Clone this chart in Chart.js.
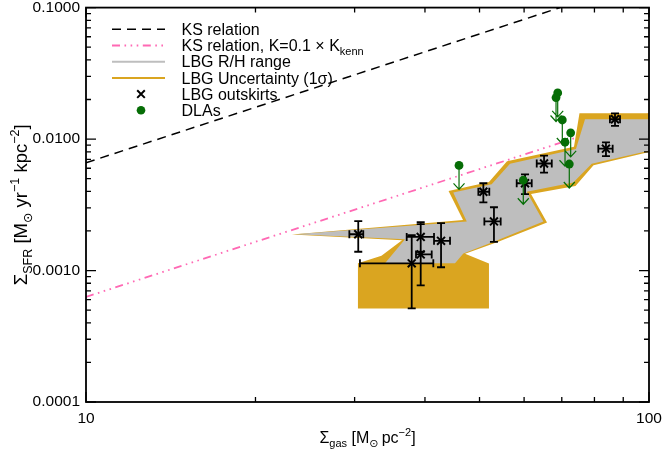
<!DOCTYPE html>
<html>
<head>
<meta charset="utf-8">
<title>Star formation law: LBG outskirts and DLAs</title>
<script src="https://cdn.jsdelivr.net/npm/chart.js@4.4.1/dist/chart.umd.min.js"></script>
<style>
  html, body { margin: 0; padding: 0; background: #ffffff; }
  #wrap { width: 662px; height: 450px; position: relative; }
</style>
</head>
<body>
<div id="wrap"><canvas id="kslaw" width="662" height="450"></canvas></div>
<script>
// ---------------- axis ticks ----------------
const xTickValues = [10, 100];
const xTickLabels = ['10', '100'];
const yTickValues = [0.0001, 0.001, 0.01, 0.1];
const yTickLabels = ['0.0001', '0.0010', '0.0100', '0.1000'];
const minorSteps = [2, 3, 4, 5, 6, 7, 8, 9];

// ---------------- Kennicutt-Schmidt relations (straight in log-log) ----------------
const ksGas = [10, 69.5];
const ksSfr = [0.0066, 0.1];
const ksLowGas = [10, 100];
const ksLowSfr = [0.00063, 0.0155];

// ---------------- LBG R/H range (grey region outline) ----------------
const rhGas = [23.51, 47.46, 44.91, 52.55, 56.64, 74.18, 76.97, 100, 100, 79.11,
               73.37, 60.65, 64.92, 53.27, 46.80, 45.23, 33.97, 36.87];
const rhSfr = [0.001888, 0.002364, 0.003926, 0.004533, 0.006486, 0.008413, 0.01415, 0.01415, 0.008166, 0.006486,
               0.004668, 0.003973, 0.002364, 0.001673, 0.001349, 0.001135, 0.001135, 0.001731];

// ---------------- LBG 1-sigma uncertainty (gold region outline) ----------------
const uncGas = [23.22, 46.74, 44.05, 51.97, 55.95, 73.58, 75.25, 100, 100, 79.70, 74.03,
                61.72, 65.90, 53.70, 47.13, 51.97, 51.97, 30.41, 30.41, 33.48, 36.42];
const uncSfr = [0.001881, 0.002418, 0.004030, 0.004709, 0.006773, 0.008737, 0.01569, 0.01569, 0.007985, 0.006320, 0.004394,
                0.003826, 0.002316, 0.001638, 0.001342, 0.001129, 0.0005135, 0.0005135, 0.001135, 0.001297, 0.001696];

// ---------------- LBG outskirts with error bars ----------------
const lbgGas   = [30.45, 39.31, 39.31, 37.89, 42.72, 53.04, 50.79, 60.23, 65.10, 83.86, 87.02];
const lbgGasLo = [29.36, 37.12, 38.56, 30.66, 41.51, 51.00, 49.76, 58.21, 63.18, 81.28, 85.23];
const lbgGasHi = [31.08, 41.51, 41.12, 41.39, 44.32, 54.52, 52.04, 61.90, 67.19, 86.19, 88.83];
const lbgSfr   = [0.001888, 0.001803, 0.001327, 0.001135, 0.001682, 0.002364, 0.003973, 0.004613, 0.006521, 0.008455, 0.01415];
const lbgSfrLo = [0.001390, 0.001390, 0.000771, 0.000515, 0.001059, 0.001652, 0.003302, 0.003811, 0.005551, 0.007413, 0.01259];
const lbgSfrHi = [0.002377, 0.002335, 0.002256, 0.001855, 0.002296, 0.003029, 0.004613, 0.005392, 0.007487, 0.009445, 0.01570];

// ---------------- DLAs (upper limits) ----------------
const dlaGas = [45.98, 59.80, 68.84, 68.37, 70.15, 72.59, 70.93, 72.18];
const dlaSfr = [0.00630, 0.00486, 0.02244, 0.02070, 0.01397, 0.01115, 0.00946, 0.00646];

// ---------------- styling ----------------
const FONT = '"Liberation Sans", Arial, Helvetica, "DejaVu Sans", sans-serif';
const GREY = '#bebebe';
const GOLD = '#daa520';
const PINK = '#ff69b4';
const GREEN = '#066d06';
const KS_DASH = [9, 6];
const KS_LOW_DASH = [8, 4.5, 1.6, 4.5, 1.6, 4.5, 1.6, 4.5];

const pairs = (xs, ys) => xs.map((v, i) => ({ x: v, y: ys[i] }));

// draw mixed-size text (sub/superscripts) left to right from x at baseline y
function richWidth(ctx, parts) {
  let w = 0;
  for (const p of parts) { ctx.font = p.size + 'px ' + FONT; w += ctx.measureText(p.t).width; }
  return w;
}
function drawRich(ctx, parts, x, y) {
  let cx = x;
  for (const p of parts) {
    ctx.font = p.size + 'px ' + FONT;
    ctx.fillText(p.t, cx, y + (p.dy || 0));
    cx += ctx.measureText(p.t).width;
  }
}

const xTitle = [
  { t: 'Σ', size: 16 }, { t: 'gas', size: 11, dy: 4 }, { t: ' [M', size: 16 },
  { t: '⊙', size: 11, dy: 4 }, { t: '\u2009pc', size: 16 }, { t: '−2', size: 11, dy: -7 }, { t: ']', size: 16 }
];
const yTitle = [
  { t: 'Σ', size: 18.5 }, { t: 'SFR', size: 12.5, dy: 4.5 }, { t: ' [M', size: 18.5 },
  { t: '⊙', size: 12.5, dy: 4.5 }, { t: ' yr', size: 18.5 }, { t: '−1', size: 12.5, dy: -8 },
  { t: ' kpc', size: 18.5 }, { t: '−2', size: 12.5, dy: -8 }, { t: ']', size: 18.5 }
];

const legendRows = [
  { kind: 'dash', parts: [{ t: 'KS relation', size: 16 }] },
  { kind: 'dashdot', parts: [{ t: 'KS relation, K=0.1 × K', size: 16 }, { t: 'kenn', size: 11, dy: 4 }] },
  { kind: 'grey', parts: [{ t: 'LBG R/H range', size: 16 }] },
  { kind: 'gold', parts: [{ t: 'LBG Uncertainty (1σ)', size: 16 }] },
  { kind: 'cross', parts: [{ t: 'LBG outskirts', size: 16 }] },
  { kind: 'dot', parts: [{ t: 'DLAs', size: 16 }] }
];

// error bars for the LBG outskirt measurements
const errorBars = {
  id: 'errorBars',
  afterDatasetDraw(chart, args) {
    if (chart.data.datasets[args.index].label !== 'LBG outskirts') return;
    const { ctx, scales: { x, y } } = chart;
    const cap = 4;
    ctx.save();
    ctx.strokeStyle = '#000';
    ctx.lineWidth = 1.8;
    ctx.beginPath();
    lbgGas.forEach((g, i) => {
      const px = x.getPixelForValue(g), py = y.getPixelForValue(lbgSfr[i]);
      const top = y.getPixelForValue(lbgSfrHi[i]), bot = y.getPixelForValue(lbgSfrLo[i]);
      const lft = x.getPixelForValue(lbgGasLo[i]), rgt = x.getPixelForValue(lbgGasHi[i]);
      ctx.moveTo(px, top); ctx.lineTo(px, bot);
      ctx.moveTo(px - cap, top); ctx.lineTo(px + cap, top);
      ctx.moveTo(px - cap, bot); ctx.lineTo(px + cap, bot);
      ctx.moveTo(lft, py); ctx.lineTo(rgt, py);
      ctx.moveTo(lft, py - cap); ctx.lineTo(lft, py + cap);
      ctx.moveTo(rgt, py - cap); ctx.lineTo(rgt, py + cap);
    });
    ctx.stroke();
    ctx.restore();
  }
};

// downward arrows marking the DLA upper limits
const limitArrows = {
  id: 'limitArrows',
  beforeDatasetDraw(chart, args) {
    if (chart.data.datasets[args.index].label !== 'DLAs') return;
    const { ctx, scales: { x, y } } = chart;
    const len = 24, hw = 5.5, hh = 6;
    ctx.save();
    ctx.strokeStyle = GREEN;
    ctx.lineWidth = 1.2;
    ctx.beginPath();
    dlaGas.forEach((g, i) => {
      const px = x.getPixelForValue(g), py = y.getPixelForValue(dlaSfr[i]);
      const tip = py + len;
      ctx.moveTo(px, py); ctx.lineTo(px, tip);
      ctx.moveTo(px - hw, tip - hh); ctx.lineTo(px, tip); ctx.lineTo(px + hw, tip - hh);
    });
    ctx.stroke();
    ctx.restore();
  }
};

// closed box with inward ticks on all four sides
const axesFrame = {
  id: 'axesFrame',
  afterDatasetsDraw(chart) {
    const { ctx, chartArea: a, scales: { x, y } } = chart;
    ctx.save();
    ctx.strokeStyle = '#000';
    ctx.lineWidth = 1.3;
    ctx.beginPath();
    const yt = (v, len) => {
      const p = y.getPixelForValue(v);
      ctx.moveTo(a.left, p); ctx.lineTo(a.left + len, p);
      ctx.moveTo(a.right, p); ctx.lineTo(a.right - len, p);
    };
    const xt = (v, len) => {
      const p = x.getPixelForValue(v);
      ctx.moveTo(p, a.bottom); ctx.lineTo(p, a.bottom - len);
      ctx.moveTo(p, a.top); ctx.lineTo(p, a.top + len);
    };
    yTickValues.forEach(v => yt(v, 10));
    yTickValues.slice(0, -1).forEach(d => minorSteps.forEach(m => yt(d * m, 5)));
    xTickValues.forEach(v => xt(v, 10));
    xTickValues.slice(0, -1).forEach(d => minorSteps.forEach(m => xt(d * m, 5)));
    ctx.stroke();
    ctx.lineWidth = 1.8;
    ctx.strokeRect(a.left, a.top, a.right - a.left, a.bottom - a.top);
    ctx.restore();
  }
};

// axis titles and the key in the upper left
const annotations = {
  id: 'annotations',
  afterDraw(chart) {
    const { ctx, chartArea: a } = chart;
    ctx.save();
    ctx.fillStyle = '#000';
    ctx.textBaseline = 'alphabetic';

    const xw = richWidth(ctx, xTitle);
    drawRich(ctx, xTitle, (a.left + a.right) / 2 - xw / 2, 443);

    const yw = richWidth(ctx, yTitle);
    ctx.save();
    ctx.translate(27, (a.top + a.bottom) / 2);
    ctx.rotate(-Math.PI / 2);
    drawRich(ctx, yTitle, -yw / 2, 0);
    ctx.restore();

    const x0 = 112, x1 = 165, xm = 141, xt = 181.5, y0 = 29.3, dy = 16.2;
    legendRows.forEach((row, i) => {
      const ry = y0 + i * dy;
      ctx.save();
      ctx.beginPath();
      if (row.kind === 'dash') {
        ctx.strokeStyle = '#000'; ctx.lineWidth = 1.5; ctx.setLineDash(KS_DASH);
        ctx.moveTo(x0, ry); ctx.lineTo(x1, ry); ctx.stroke();
      } else if (row.kind === 'dashdot') {
        ctx.strokeStyle = PINK; ctx.lineWidth = 1.8; ctx.setLineDash(KS_LOW_DASH);
        ctx.moveTo(x0, ry); ctx.lineTo(x1, ry); ctx.stroke();
      } else if (row.kind === 'grey') {
        ctx.strokeStyle = GREY; ctx.lineWidth = 2;
        ctx.moveTo(x0, ry); ctx.lineTo(x1, ry); ctx.stroke();
      } else if (row.kind === 'gold') {
        ctx.strokeStyle = GOLD; ctx.lineWidth = 2;
        ctx.moveTo(x0, ry); ctx.lineTo(x1, ry); ctx.stroke();
      } else if (row.kind === 'cross') {
        ctx.strokeStyle = '#000'; ctx.lineWidth = 2;
        ctx.moveTo(xm - 3.8, ry - 3.8); ctx.lineTo(xm + 3.8, ry + 3.8);
        ctx.moveTo(xm - 3.8, ry + 3.8); ctx.lineTo(xm + 3.8, ry - 3.8); ctx.stroke();
      } else if (row.kind === 'dot') {
        ctx.fillStyle = GREEN;
        ctx.arc(xm, ry, 4.3, 0, Math.PI * 2); ctx.fill();
      }
      ctx.restore();
      ctx.fillStyle = '#000';
      drawRich(ctx, row.parts, xt, ry + 5.7);
    });
    ctx.restore();
  }
};

const tickFont = { family: FONT, size: 15.5 };

new Chart(document.getElementById('kslaw'), {
  type: 'line',
  data: {
    datasets: [
      {
        label: 'DLAs', data: pairs(dlaGas, dlaSfr), showLine: false,
        pointStyle: 'circle', pointRadius: 4.4, pointBackgroundColor: GREEN,
        pointBorderColor: GREEN, pointBorderWidth: 0, order: 0
      },
      {
        label: 'LBG outskirts', data: pairs(lbgGas, lbgSfr), showLine: false,
        pointStyle: 'crossRot', pointRadius: 5.6, pointBorderColor: '#000',
        pointBorderWidth: 2, order: 1
      },
      {
        label: 'LBG R/H range', data: pairs(rhGas, rhSfr), showLine: true, fill: 'shape',
        backgroundColor: GREY, borderColor: 'rgba(0,0,0,0)', borderWidth: 0, pointRadius: 0, order: 2
      },
      {
        label: 'LBG Uncertainty (1σ)', data: pairs(uncGas, uncSfr), showLine: true, fill: 'shape',
        backgroundColor: GOLD, borderColor: 'rgba(0,0,0,0)', borderWidth: 0, pointRadius: 0, order: 3
      },
      {
        label: 'KS relation, K=0.1 × Kkenn', data: pairs(ksLowGas, ksLowSfr), showLine: true, fill: false,
        borderColor: PINK, borderWidth: 1.8, borderDash: KS_LOW_DASH, pointRadius: 0, order: 4
      },
      {
        label: 'KS relation', data: pairs(ksGas, ksSfr), showLine: true, fill: false,
        borderColor: '#000', borderWidth: 1.5, borderDash: KS_DASH, pointRadius: 0, order: 5
      }
    ]
  },
  options: {
    responsive: false,
    animation: false,
    devicePixelRatio: 1,
    events: [],
    layout: { padding: { top: 3, right: 13, left: 0, bottom: 0 } },
    elements: { line: { tension: 0 } },
    plugins: { legend: { display: false }, tooltip: { enabled: false } },
    scales: {
      x: {
        type: 'logarithmic', min: 10, max: 100,
        grid: { display: false, drawTicks: false }, border: { display: false },
        afterBuildTicks: s => { s.ticks = xTickValues.map(v => ({ value: v })); },
        afterFit: s => { s.height = 48; s.paddingLeft = 0; s.paddingRight = 0; },
        ticks: {
          font: tickFont, color: '#000', padding: 7, maxRotation: 0, autoSkip: false,
          callback: v => xTickLabels[xTickValues.indexOf(v)]
        }
      },
      y: {
        type: 'logarithmic', min: 0.0001, max: 0.1,
        grid: { display: false, drawTicks: false }, border: { display: false },
        afterBuildTicks: s => { s.ticks = yTickValues.map(v => ({ value: v })); },
        afterFit: s => { s.width = 86; s.paddingTop = 0; s.paddingBottom = 0; },
        ticks: {
          font: tickFont, color: '#000', padding: 6, autoSkip: false,
          callback: v => yTickLabels[yTickValues.indexOf(v)]
        }
      }
    }
  },
  plugins: [errorBars, limitArrows, axesFrame, annotations]
});
</script>
</body>
</html>
